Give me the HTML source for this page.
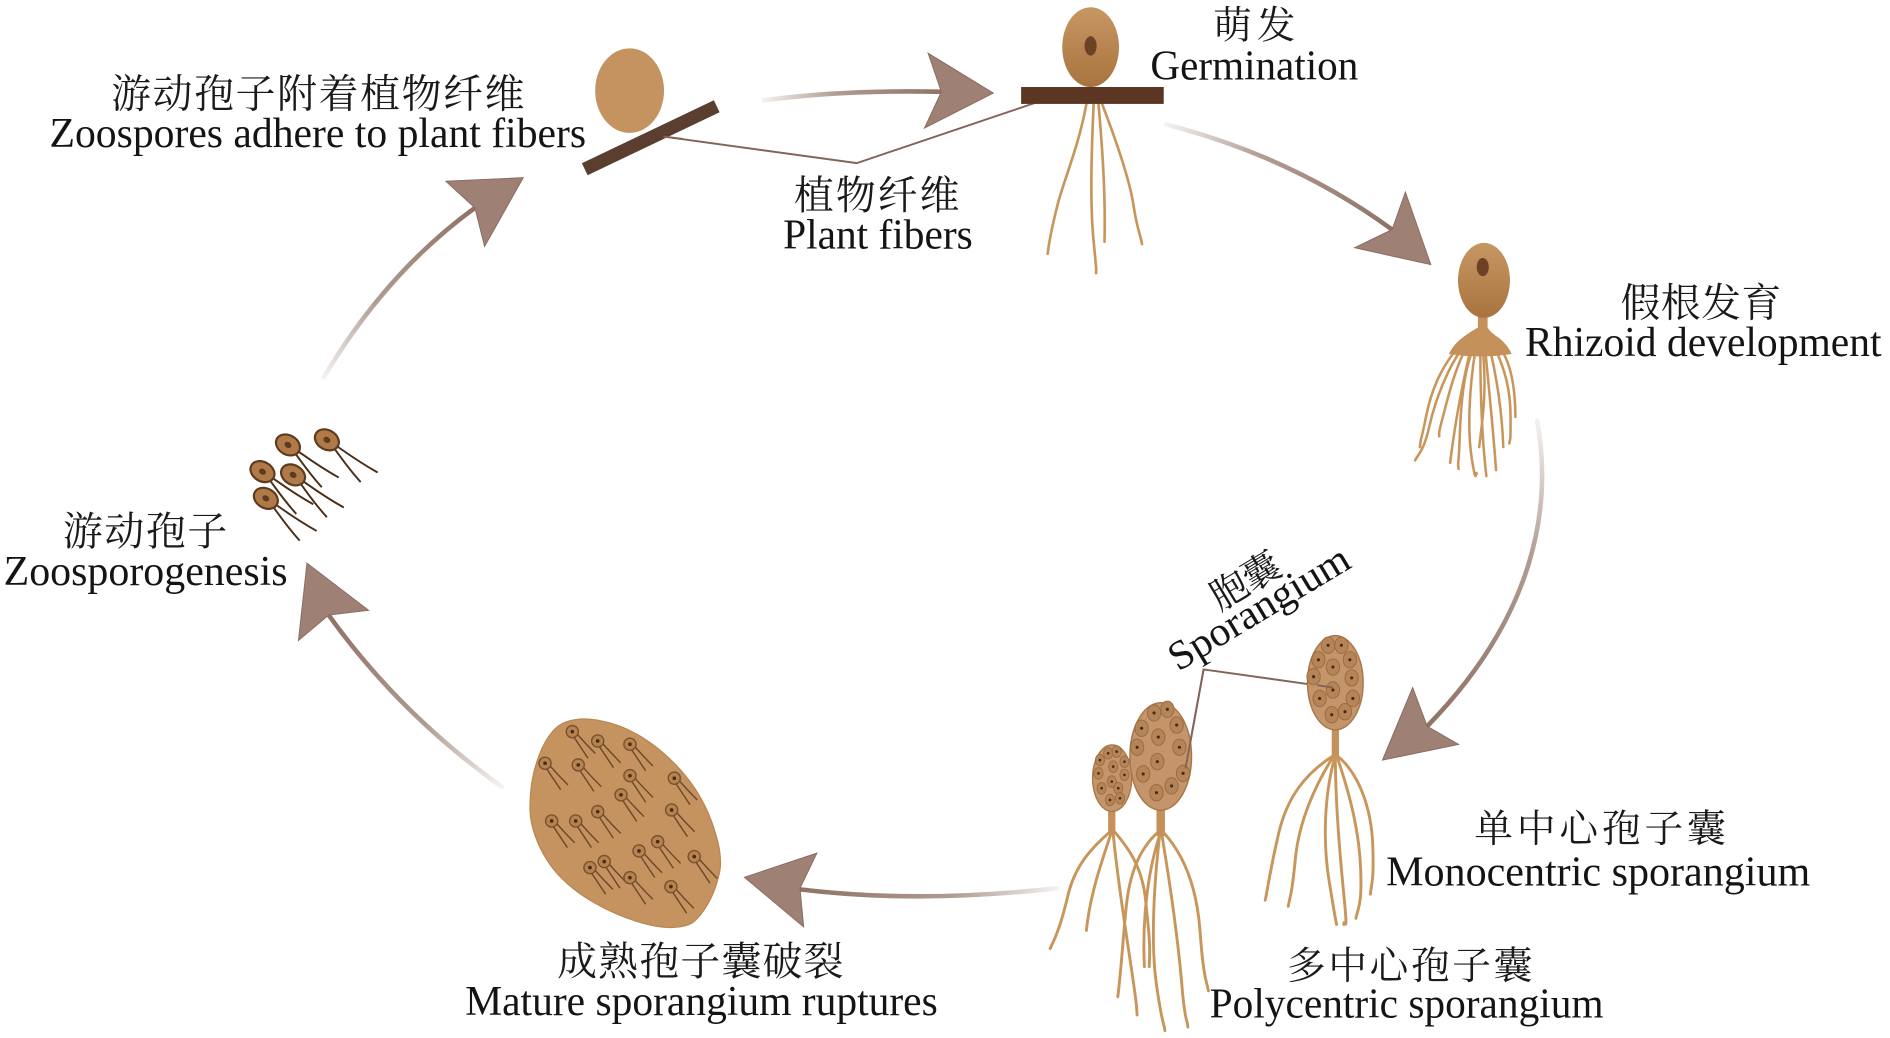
<!DOCTYPE html>
<html><head><meta charset="utf-8"><style>
html,body{margin:0;padding:0;background:#fff;}
svg{display:block;}
.l{font-family:"Liberation Serif","Noto Serif CJK SC",serif;fill:#141414;}
.c{font-family:"Liberation Serif","Noto Serif CJK SC","Noto Sans CJK SC",serif;fill:#1a1a1a;}
</style></head><body>
<svg width="1890" height="1038" viewBox="0 0 1564 859" preserveAspectRatio="none" xmlns="http://www.w3.org/2000/svg">
<defs>
<linearGradient id="sp" x1="0" y1="0" x2="0" y2="1"><stop offset="0" stop-color="#c79763"/><stop offset="1" stop-color="#a8733f"/></linearGradient>
<linearGradient id="g1" gradientUnits="userSpaceOnUse" x1="632" y1="83" x2="780" y2="76"><stop offset="0" stop-color="#8f7264" stop-opacity="0.1"/><stop offset="0.4" stop-color="#8f7264" stop-opacity="0.7"/><stop offset="1" stop-color="#8f7264"/></linearGradient>
<linearGradient id="g2" gradientUnits="userSpaceOnUse" x1="268" y1="312" x2="393" y2="172"><stop offset="0" stop-color="#8f7264" stop-opacity="0.1"/><stop offset="0.4" stop-color="#8f7264" stop-opacity="0.7"/><stop offset="1" stop-color="#8f7264"/></linearGradient>
<linearGradient id="g3" gradientUnits="userSpaceOnUse" x1="965" y1="103" x2="1152" y2="190"><stop offset="0" stop-color="#8f7264" stop-opacity="0.1"/><stop offset="0.4" stop-color="#8f7264" stop-opacity="0.7"/><stop offset="1" stop-color="#8f7264"/></linearGradient>
<linearGradient id="g4" gradientUnits="userSpaceOnUse" x1="1272" y1="348" x2="1181" y2="601"><stop offset="0" stop-color="#8f7264" stop-opacity="0.1"/><stop offset="0.4" stop-color="#8f7264" stop-opacity="0.7"/><stop offset="1" stop-color="#8f7264"/></linearGradient>
<linearGradient id="g5" gradientUnits="userSpaceOnUse" x1="875" y1="735" x2="662" y2="736"><stop offset="0" stop-color="#8f7264" stop-opacity="0.1"/><stop offset="0.4" stop-color="#8f7264" stop-opacity="0.7"/><stop offset="1" stop-color="#8f7264"/></linearGradient>
<linearGradient id="g6" gradientUnits="userSpaceOnUse" x1="415" y1="651" x2="272" y2="509"><stop offset="0" stop-color="#8f7264" stop-opacity="0.1"/><stop offset="0.4" stop-color="#8f7264" stop-opacity="0.7"/><stop offset="1" stop-color="#8f7264"/></linearGradient>
<g id="zi">
  <path d="M1,4 Q7,13 13,22 M4,2 Q11,10 19,18" stroke="#6e4a2c" stroke-width="1.2" fill="none"/>
  <circle r="5" fill="#b5834f" stroke="#7a5230" stroke-width="1.2"/>
  <circle r="1.5" fill="#4a2a15"/>
</g>
<g id="zf">
  <path d="M8,5 C18,12 26,18 42,27 M6,7 C12,15 18,24 28,35" stroke="#4a2e18" stroke-width="1.6" fill="none"/>
  <ellipse rx="10.5" ry="8" transform="rotate(30)" fill="#b07a48" stroke="#5e3b1e" stroke-width="1.8"/>
  <ellipse rx="3" ry="2.4" transform="rotate(30)" fill="#5e3b1e"/>
</g>
<g id="spot"><ellipse rx="5.5" ry="6.8" fill="#b5855a" stroke="#9c6a3d" stroke-width="0.8"/><circle r="1.3" fill="#4a2a15"/></g>
<g id="spots"><ellipse rx="3.8" ry="4.8" fill="#b5855a" stroke="#9c6a3d" stroke-width="0.7"/><circle r="1.1" fill="#4a2a15"/></g>
</defs>

<!-- arrows -->
<g fill="none" stroke-width="3.8" stroke-linecap="round">
  <path d="M632,83 Q700,74 782,76" stroke="url(#g1)"/>
  <path d="M268,312 Q320,225 393,172" stroke="url(#g2)"/>
  <path d="M965,103 Q1070,130 1152,190" stroke="url(#g3)"/>
  <path d="M1272,348 C1285,420 1270,510 1181,601" stroke="url(#g4)"/>
  <path d="M875,735 Q760,748 662,736" stroke="url(#g5)"/>
  <path d="M415,651 Q330,590 272,509" stroke="url(#g6)"/>
</g>
<g fill="#9e8174" stroke="#8a6c5f" stroke-width="0.8">
  <path d="M768,44 L822,77 L765,106 L779,76 Z"/>
  <path d="M369,150 L433,147 L401,204 L393,172 Z"/>
  <path d="M1163,159 L1184,219 L1121,205 L1152,190 Z"/>
  <path d="M1169,569 L1144,629 L1207,616 L1181,601 Z"/>
  <path d="M676,706 L616,726 L665,767 L662,735 Z"/>
  <path d="M254,466 L305,505 L272,509 L247,530 Z"/>
</g>

<!-- leader lines -->
<g fill="none" stroke="#836459" stroke-width="1.6">
  <path d="M549,113 L709,135 L860,84"/>
  <path d="M981,636 L996,554 L1103,569"/>
</g>

<!-- adhering zoospore -->
<rect x="478" y="108.5" width="121" height="11" fill="#5a3f31" transform="rotate(-25.5 538.5 114)"/>
<ellipse cx="521" cy="75" rx="28.5" ry="35" fill="#c4935f"/>
<path d="M549,113 L565,115" stroke="#836459" stroke-width="1.6"/>

<!-- germination -->
<g fill="none" stroke="#c8955b" stroke-width="2.2" stroke-linecap="round">
  <path d="M899,86 C893,120 880,150 875,170 S868,200 867,210"/>
  <path d="M905,86 C903,130 902,170 905,200 S907,220 907,226"/>
  <path d="M909,86 C912,120 915,160 914,200"/>
  <path d="M912,86 C925,120 935,150 938,170 S944,195 945,202"/>
</g>
<ellipse cx="902.5" cy="39" rx="23.5" ry="33" fill="url(#sp)"/>
<ellipse cx="902.5" cy="38" rx="5" ry="8" fill="#6b4226"/>
<rect x="845" y="72" width="118" height="14" fill="#5b3622"/>

<!-- rhizoid development -->
<g fill="none" stroke="#c8955b" stroke-width="2.1" stroke-linecap="round">
  <path d="M1210,288 C1198,305 1188,330 1183,352 S1174,375 1171,381"/>
  <path d="M1213,288 C1203,308 1198,330 1194,345 S1191,358 1191,361"/>
  <path d="M1217,289 C1210,318 1204,350 1200,383"/>
  <path d="M1221,289 C1216,320 1214,355 1218,380 S1221,388 1222,392"/>
  <path d="M1225,289 C1225,320 1226,360 1230,394"/>
  <path d="M1229,289 C1232,320 1236,360 1238,389"/>
  <path d="M1233,289 C1238,310 1243,340 1244,370"/>
  <path d="M1237,288 C1245,305 1250,322 1250,345 S1250,360 1249,367"/>
  <path d="M1241,287 C1250,300 1254,320 1254,345"/>
  <path d="M1219,289 C1212,305 1209,330 1208,360 S1206,380 1207,388"/>
  <path d="M1227,289 C1230,320 1228,340 1224,370"/>
  <path d="M1207,287 C1194,302 1185,320 1180,345 S1176,360 1175,370"/>
</g>
<path d="M1223,258 L1223,271 Q1214,276 1207,282 Q1201,288 1199,293 Q1225,297 1251,293 Q1248,286 1241,280 Q1233,275 1231,271 L1231,258 Z" fill="#c4915a"/>
<ellipse cx="1228" cy="232" rx="21.5" ry="31" fill="url(#sp)"/>
<ellipse cx="1227" cy="221" rx="5" ry="7.5" fill="#6b4226"/>

<!-- monocentric sporangium -->
<g fill="none" stroke="#c8955b" stroke-width="2.4" stroke-linecap="round">
  <path d="M1104,625 C1080,640 1065,660 1058,690 S1050,730 1047,745"/>
  <path d="M1104,625 C1088,650 1075,680 1072,710 S1068,740 1066,750"/>
  <path d="M1105,625 C1095,660 1095,700 1100,730 S1104,755 1106,765"/>
  <path d="M1105,625 C1105,660 1108,700 1112,740 S1112,758 1112,765"/>
  <path d="M1106,625 C1118,660 1125,690 1126,720 S1124,750 1122,760"/>
  <path d="M1106,625 C1125,640 1135,670 1136,700 S1135,730 1134,740"/>
</g>
<path d="M1102,600 L1102,626 L1108,626 L1108,600 Z" fill="#c4915a"/>
<ellipse cx="1105" cy="565" rx="23" ry="39" fill="#c4956a" stroke="#a87749" stroke-width="1.2"/>
<g>
  <use href="#spot" x="1099" y="534"/><use href="#spot" x="1110" y="534"/>
  <use href="#spot" x="1091" y="546"/><use href="#spot" x="1103" y="552"/><use href="#spot" x="1117" y="546"/>
  <use href="#spot" x="1087" y="560"/><use href="#spot" x="1118.5" y="561"/><use href="#spot" x="1103" y="571"/>
  <use href="#spot" x="1092" y="578"/><use href="#spot" x="1119.5" y="578"/>
  <use href="#spot" x="1102" y="591.5"/><use href="#spot" x="1113" y="589"/>
</g>

<!-- polycentric sporangium -->
<g fill="none" stroke="#c8955b" stroke-width="2.4" stroke-linecap="round">
  <path d="M919,688 C905,700 890,715 884,740 S874,775 869,785"/>
  <path d="M920,688 C912,712 902,740 899,770"/>
  <path d="M921,688 C924,720 930,760 936,800 S940,830 941,840"/>
  <path d="M922,688 C932,700 945,715 948,745 S952,780 951,800"/>
  <path d="M959,688 C945,700 935,720 932,750 S928,800 925,825"/>
  <path d="M960,688 C955,730 952,780 957,815 S963,845 964,853"/>
  <path d="M961,688 C968,730 975,780 978,815 S982,840 983,850"/>
  <path d="M962,688 C978,705 990,730 993,770 S998,810 1000,820"/>
  <path d="M960,690 C950,720 945,760 947,800"/>
</g>
<path d="M957,665 L957,692 L964,692 L964,665 Z" fill="#c4915a"/>
<path d="M917,668 L917,690 L923,690 L923,668 Z" fill="#c4915a"/>
<ellipse cx="920.3" cy="644" rx="16.2" ry="27.5" fill="#c4956a" stroke="#a87749" stroke-width="1.1"/>
<rect x="930" y="628" width="10" height="10" fill="#c4956a"/>
<ellipse cx="960.5" cy="626" rx="25.5" ry="44.5" fill="#c4956a" stroke="#a87749" stroke-width="1.2"/>
<g>
  <use href="#spot" x="955" y="590"/><use href="#spot" x="966" y="587"/>
  <use href="#spot" x="944.7" y="602.7"/><use href="#spot" x="958.5" y="610"/><use href="#spot" x="973.7" y="600"/>
  <use href="#spot" x="941" y="618.4"/><use href="#spot" x="957.7" y="630.3"/><use href="#spot" x="976" y="618.4"/>
  <use href="#spot" x="946" y="640.5"/><use href="#spot" x="979" y="640"/>
  <use href="#spot" x="957" y="656"/><use href="#spot" x="969.5" y="650.4"/>
  <use href="#spots" x="917" y="623.4"/><use href="#spots" x="924" y="622"/>
  <use href="#spots" x="910.2" y="629"/><use href="#spots" x="921.2" y="634.4"/><use href="#spots" x="930.5" y="630.3"/>
  <use href="#spots" x="909" y="640"/><use href="#spots" x="920" y="646.8"/><use href="#spots" x="930.5" y="641.3"/>
  <use href="#spots" x="911.6" y="652.3"/><use href="#spots" x="925.4" y="652.3"/>
  <use href="#spots" x="918.5" y="662"/><use href="#spots" x="926.8" y="660.6"/>
</g>
<path d="M981,636 L996,554" stroke="#836459" stroke-width="1.6" fill="none"/>
<path d="M1090,567 L1103,569" stroke="#836459" stroke-width="1.6" fill="none"/>

<!-- mature sporangium -->
<path d="M481,595 Q495,594.5 513,601 Q531,608 547.5,622 Q564,636 575,652.5 Q586,669 592,689.5 Q598.5,710 595,724 Q591.6,738 586,747.5 Q580.6,757 575,762 Q569.6,767 557,767.5 Q544.7,768 527,762.5 Q509,757 492.5,747.5 Q475.8,738 465,727 Q453.7,716 446,699.5 Q438.6,683 438.6,669 Q438.6,655 440.7,644 Q442.7,633 448,620.5 Q453.7,608 460.6,602 Q467.5,596 481,595 Z" fill="#c4935f" stroke="#b9864f" stroke-width="1"/>
<g>
  <use href="#zi" x="473.6" y="605.5"/><use href="#zi" x="494.6" y="613.2"/><use href="#zi" x="521.3" y="615.9"/>
  <use href="#zi" x="451" y="631.6"/><use href="#zi" x="478.5" y="633"/><use href="#zi" x="521.3" y="641.9"/>
  <use href="#zi" x="558" y="644"/><use href="#zi" x="513.9" y="657.8"/><use href="#zi" x="494.6" y="671.7"/>
  <use href="#zi" x="555.8" y="670.3"/><use href="#zi" x="456.5" y="679.4"/><use href="#zi" x="476.4" y="679.4"/>
  <use href="#zi" x="544.2" y="696.5"/><use href="#zi" x="528.8" y="704.2"/><use href="#zi" x="574.5" y="708.9"/>
  <use href="#zi" x="488.2" y="718"/><use href="#zi" x="500" y="713"/><use href="#zi" x="521.3" y="726.3"/>
  <use href="#zi" x="555.2" y="733.7"/>
</g>

<!-- free zoospores -->
<use href="#zf" x="270.5" y="364"/>
<use href="#zf" x="238.3" y="368.2"/>
<use href="#zf" x="242.5" y="393"/>
<use href="#zf" x="217.2" y="390.3"/>
<use href="#zf" x="220" y="412.4"/>

<!-- text -->
<text class="c" x="92" y="89" font-size="33" textLength="342" lengthAdjust="spacing">游动孢子附着植物纤维</text>
<text class="l" x="41" y="121.5" font-size="35" textLength="444" lengthAdjust="spacingAndGlyphs">Zoospores adhere to plant fibers</text>
<text class="c" x="1004" y="32" font-size="32" textLength="68" lengthAdjust="spacing">萌发</text>
<text class="l" x="952" y="66" font-size="35" textLength="172" lengthAdjust="spacingAndGlyphs">Germination</text>
<text class="c" x="657" y="173" font-size="33" textLength="137" lengthAdjust="spacing">植物纤维</text>
<text class="l" x="648" y="205.5" font-size="35" textLength="157" lengthAdjust="spacingAndGlyphs">Plant fibers</text>
<text class="c" x="1341" y="262" font-size="33" textLength="133" lengthAdjust="spacing">假根发育</text>
<text class="l" x="1262" y="294.5" font-size="35" textLength="295" lengthAdjust="spacingAndGlyphs">Rhizoid development</text>
<text class="c" x="52" y="451" font-size="33" textLength="136" lengthAdjust="spacing">游动孢子</text>
<text class="l" x="3" y="484" font-size="35" textLength="235" lengthAdjust="spacingAndGlyphs">Zoosporogenesis</text>
<text class="c" x="1220" y="697" font-size="32" textLength="208" lengthAdjust="spacing">单中心孢子囊</text>
<text class="l" x="1147" y="733" font-size="35" textLength="351" lengthAdjust="spacingAndGlyphs">Monocentric sporangium</text>
<text class="c" x="1065" y="810" font-size="32" textLength="203" lengthAdjust="spacing">多中心孢子囊</text>
<text class="l" x="1001" y="842" font-size="35" textLength="326" lengthAdjust="spacingAndGlyphs">Polycentric sporangium</text>
<text class="c" x="461" y="807" font-size="33" textLength="237" lengthAdjust="spacing">成熟孢子囊破裂</text>
<text class="l" x="385" y="840" font-size="35" textLength="391" lengthAdjust="spacingAndGlyphs">Mature sporangium ruptures</text>
<text class="l" x="975" y="556" font-size="34" textLength="169" lengthAdjust="spacingAndGlyphs" transform="rotate(-31 975 556)">Sporangium</text>
<text class="c" x="1036" y="490" font-size="31" text-anchor="middle" transform="rotate(-31 1036 490)">胞囊</text>
</svg>
</body></html>
